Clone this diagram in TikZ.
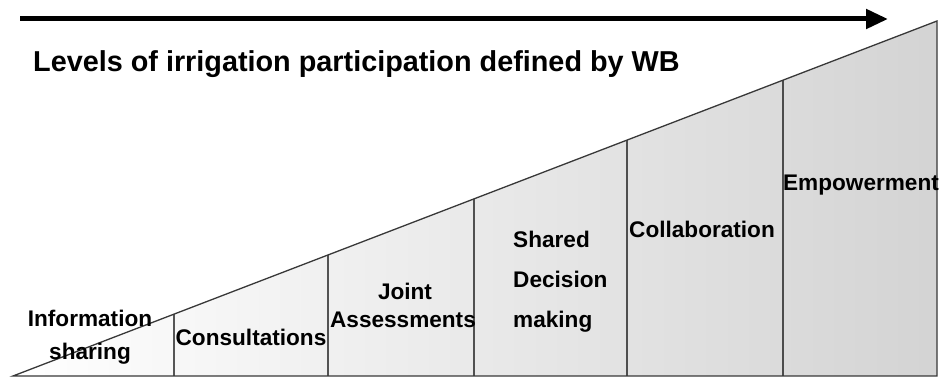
\documentclass[tikz,border=0pt]{standalone}
\usepackage{fontspec}
\setmainfont{Liberation Sans}
\usetikzlibrary{arrows.meta,calc}
\begin{document}
\begin{tikzpicture}[x=1pt,y=-1pt,
  lbl/.style={font=\fontsize{22.6}{26}\selectfont\bfseries, inner sep=0pt, anchor=base},
  edge/.style={draw=black!78, line width=1.3pt},
  divider/.style={draw=black, line width=1.4pt},
  trend/.style={draw=black, line width=5pt, -{Triangle[length=22pt,width=19pt]}}]
\useasboundingbox (0,0) rectangle (943,379);
% corners of the wedge
\coordinate (bl) at (13,376);
\coordinate (tr) at (937,21);
\coordinate (br) at (937,376);
% shaded wedge
\shade[left color=white, right color=black!17] (bl) -- (tr) -- (br) -- cycle;
% vertical dividers, each rising from the base to the slope
\foreach \x/\n in {174/a,328/b,474/c,627/d,783/e}{
  \coordinate (\n1) at (\x,376);
  \coordinate (\n2) at ($(bl)!{(\x-13)/924}!(tr)$);
  \draw[divider] (\n1) -- (\n2);
}
\draw[edge, line join=miter] (bl) -- (tr) -- (br) -- cycle;
% direction arrow and heading
\coordinate (s) at (20,19);
\coordinate (t) at (888,19);
\draw[trend] (s) -- (t);
\node[font=\fontsize{28.8}{32}\selectfont\bfseries, inner sep=0pt, anchor=base west] (title) at (33,72) {Levels of irrigation participation defined by WB};
% level labels
\node[lbl] (info1) at (90,327) {Information};
\node[lbl] (info2) at (90,360) {sharing};
\node[lbl] (cons) at (251,346) {Consultations};
\node[lbl] (joint1) at (405,300) {Joint};
\node[lbl] (joint2) at (403,328) {Assessments};
\node[lbl, anchor=base west] (sh1) at (513,248) {Shared};
\node[lbl, anchor=base west] (sh2) at (513,288) {Decision};
\node[lbl, anchor=base west] (sh3) at (513,328) {making};
\node[lbl] (coll) at (702,238) {Collaboration};
\node[lbl] (emp) at (861,191) {Empowerment};
\end{tikzpicture}
\end{document}
